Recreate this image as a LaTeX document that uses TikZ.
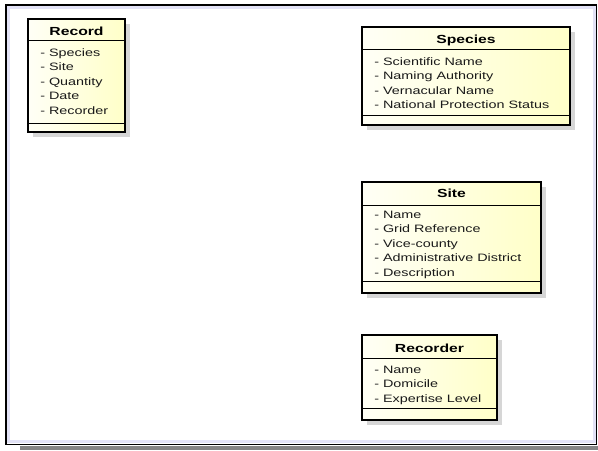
\documentclass[tikz,border=0pt]{standalone}
\usepackage{fontspec}
\newfontfamily\umlfont{Liberation Sans}[FakeStretch=1.34]
\definecolor{umlA}{HTML}{FFFFF6}
\definecolor{umlB}{HTML}{FFFFC8}
\definecolor{frameinner}{HTML}{E2E2F6}
\definecolor{shadowgray}{HTML}{D6D6D6}
\definecolor{bandgray}{HTML}{858585}
\definecolor{attrtext}{HTML}{1A1A1A}
\tikzset{
  umlshadow/.style={fill=shadowgray},
  umlfill/.style={left color=umlA, right color=umlB},
  umlborder/.style={draw=black, line width=1.6pt},
  umlsep/.style={draw=black, line width=0.75pt},
  umltitle/.style={inner sep=0pt, anchor=base, font=\umlfont\fontsize{8.8pt}{10pt}\selectfont\bfseries},
  umlattr/.style={inner sep=0pt, anchor=base west, text=attrtext, font=\umlfont\fontsize{8.05pt}{10pt}\selectfont},
}
\def\umlbox(#1,#2,#3,#4,#5,#6){%
  \fill[umlshadow] (#1+5,#2+5) rectangle (#3+5,#4+5);
  \shade[umlfill] (#1,#2) rectangle (#3,#4);
  \draw[umlsep] (#1,#5) -- (#3,#5) (#1,#6) -- (#3,#6);
  \draw[umlborder] (#1,#2) rectangle (#3,#4);
}
\begin{document}
\begin{tikzpicture}[x=0.75pt, y=-0.75pt]
\useasboundingbox (0,0) rectangle (598,450);
% frame
\fill[bandgray] (20,446) rectangle (598,450);
\draw[frameinner, line width=1.8pt] (8.5,7.5) rectangle (594.5,441.5);
\draw[black, line width=0.9pt] (6,5) rectangle (596.5,444.3);

% Record
\umlbox(28,19,125,132,40,123)
\node[umltitle] (record) at (76.5,35.2) {Record};
\foreach \t [count=\i] in {Species,Site,Quantity,Date,Recorder}
  \node[umlattr] (record-\i) at (40,{56.5+14.4*(\i-1)}) {- \t};

% Species
\umlbox(362,27,570,125,49,115)
\node[umltitle] (species) at (466,43.2) {Species};
\foreach \t [count=\i] in {Scientific Name,Naming Authority,Vernacular Name,National Protection Status}
  \node[umlattr] (species-\i) at (374,{65+14.5*(\i-1)}) {- \t};

% Site
\umlbox(362,182,541,293,205,281)
\node[umltitle] (site) at (451.5,197.2) {Site};
\foreach \t [count=\i] in {Name,Grid Reference,Vice-county,Administrative District,Description}
  \node[umlattr] (site-\i) at (374,{218.3+14.5*(\i-1)}) {- \t};

% Recorder
\umlbox(362,335,497,420,358,408)
\node[umltitle] (recorder) at (429.5,352.2) {Recorder};
\foreach \t [count=\i] in {Name,Domicile,Expertise Level}
  \node[umlattr] (recorder-\i) at (374,{373+14.5*(\i-1)}) {- \t};
\end{tikzpicture}
\end{document}
